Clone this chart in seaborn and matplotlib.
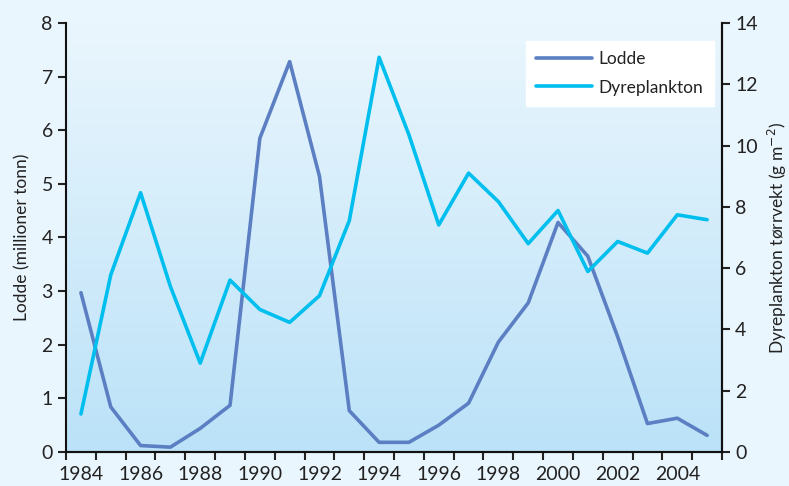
import numpy as np
import pandas as pd
import seaborn as sns
import matplotlib.pyplot as plt
from matplotlib.lines import Line2D
from matplotlib.colors import LinearSegmentedColormap

# == Data == #
years = list(range(1984, 2006))
lodde = [2.97, 0.84, 0.12, 0.09, 0.44, 0.87, 5.85, 7.28, 5.14, 0.77, 0.18,
         0.18, 0.50, 0.91, 2.05, 2.78, 4.28, 3.65, 2.15, 0.53, 0.63, 0.31]
dyreplankton = [1.24, 5.78, 8.46, 5.40, 2.90, 5.61, 4.65, 4.23, 5.10, 7.55, 12.88,
                10.35, 7.41, 9.10, 8.17, 6.80, 7.88, 5.89, 6.87, 6.49, 7.74, 7.58]
year_labels = [1984, 1986, 1988, 1990, 1992, 1994, 1996, 1998, 2000, 2002, 2004]

df = pd.DataFrame({'År': years, 'Lodde': lodde, 'Dyreplankton': dyreplankton})

C_LODDE = '#5b7fc2'
C_DYR = '#00bfee'
BG = '#eaf6fd'
TXT = '#222222'

sns.set_style('ticks')
plt.rcParams['font.family'] = ['Lato', 'DejaVu Sans']
plt.rcParams['text.color'] = TXT
plt.rcParams['axes.labelcolor'] = TXT
plt.rcParams['xtick.color'] = TXT
plt.rcParams['ytick.color'] = TXT
plt.rcParams['xtick.labelcolor'] = TXT
plt.rcParams['ytick.labelcolor'] = TXT

fig = plt.figure(figsize=(7.89, 4.86), dpi=100, facecolor=BG)
ax = fig.add_axes([0.0837, 0.070, 0.8314, 0.8827])
ax.set_facecolor(BG)

# gradient background in plot area
grad = np.linspace(0, 1, 256).reshape(-1, 1)
cmap = LinearSegmentedColormap.from_list('bg', ['#eaf6fd', '#bbe2f8'])
ax.imshow(grad, extent=[0, 1, 0, 1], transform=ax.transAxes, cmap=cmap,
          aspect='auto', zorder=0, origin='upper')

sns.lineplot(data=df, x='År', y='Lodde', ax=ax, color=C_LODDE, lw=2.6, zorder=3)
ax2 = ax.twinx()
sns.lineplot(data=df, x='År', y='Dyreplankton', ax=ax2, color=C_DYR, lw=2.6, zorder=3)

ax.set_xlim(1983.5, 2005.5)
ax.set_ylim(0, 8)
ax2.set_ylim(0, 14)

ax.set_xticks(np.arange(1983.5, 2006, 1))
ax.set_xticklabels([])
ax.set_xticks(year_labels, minor=True)
ax.set_xticklabels([str(y) for y in year_labels], minor=True)
ax.tick_params(axis='x', which='major', length=6, width=1.5, direction='out')
ax.tick_params(axis='x', which='minor', length=0, labelsize=14, pad=10, labelcolor=TXT)
ax.set_yticks(range(0, 9))
ax.tick_params(axis='y', length=6, width=1.5, labelsize=14, labelcolor=TXT)
ax2.set_yticks(range(0, 15, 2))
ax2.tick_params(axis='y', length=6, width=1.5, labelsize=14, labelcolor=TXT)

ax.set_xlabel('')
ax.set_ylabel('Lodde (millioner tonn)', fontsize=12.5, labelpad=8)
ax2.set_ylabel('Dyreplankton tørrvekt (g m$^{-2}$)', fontsize=12.5, labelpad=6)

for a in (ax, ax2):
    a.spines['top'].set_visible(False)
    for s in ('left', 'right', 'bottom'):
        a.spines[s].set_linewidth(1.5)
        a.spines[s].set_color('#111111')
ax2.spines['left'].set_visible(False)
ax2.patch.set_visible(False)

handles = [Line2D([], [], color=C_LODDE, lw=2.6), Line2D([], [], color=C_DYR, lw=2.6)]
leg = ax2.legend(handles, ['Lodde', 'Dyreplankton'], loc='upper left',
                 bbox_to_anchor=(0.701, 0.958), borderaxespad=0, fontsize=12.5,
                 frameon=True, fancybox=False, handlelength=3.2, handletextpad=0.4,
                 labelspacing=0.7, borderpad=0.6, labelcolor=TXT)
leg.get_frame().set_facecolor('white')
leg.get_frame().set_edgecolor('white')
leg.get_frame().set_alpha(1)

fig.savefig('out.png', dpi=100, facecolor=BG)
